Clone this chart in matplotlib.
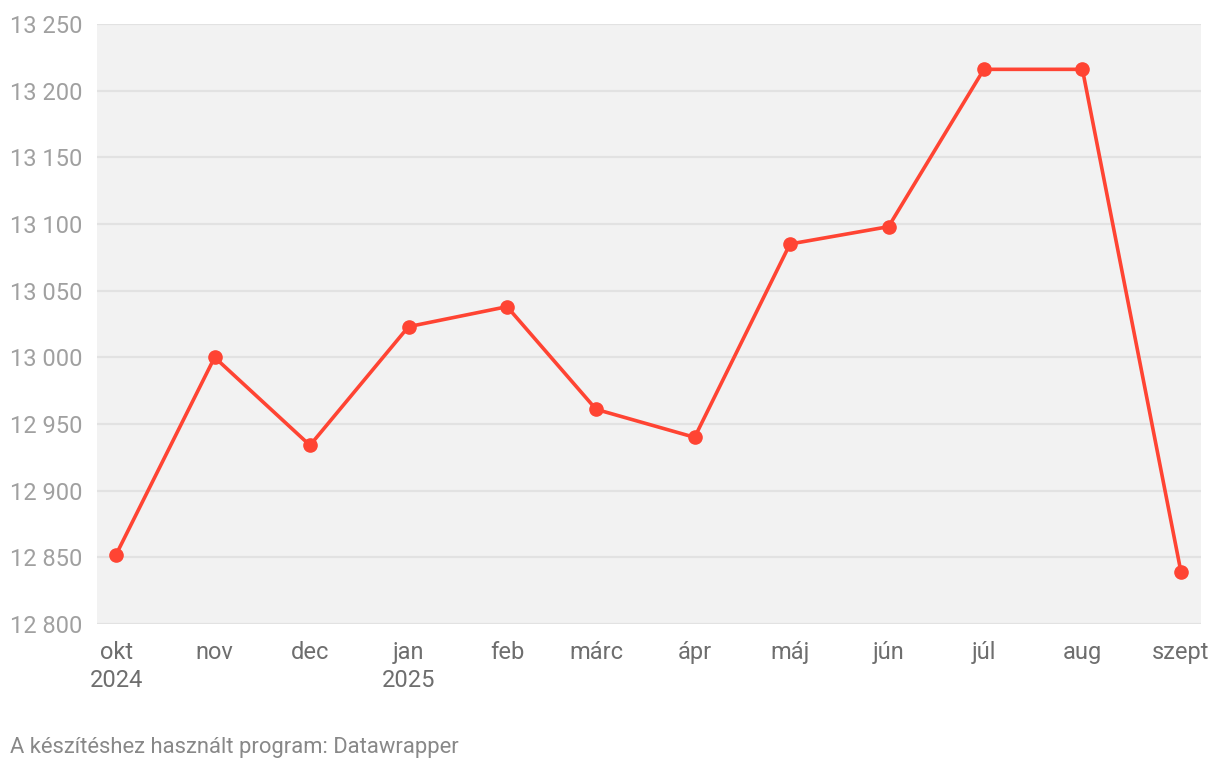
import numpy as np
import matplotlib.pyplot as plt
import matplotlib.dates as mdates
from matplotlib.ticker import FuncFormatter
from datetime import datetime, timedelta

honapok = ["2024-10-01", "2024-11-01", "2024-12-01", "2025-01-01", "2025-02-01", "2025-03-01",
           "2025-04-01", "2025-05-01", "2025-06-01", "2025-07-01", "2025-08-01", "2025-09-01"]
ertekek = [12852, 13000, 12934, 13023, 13038, 12961, 12940, 13085, 13098, 13216, 13216, 12839]
cimkek = ["okt\n2024", "nov", "dec", "jan\n2025", "feb", "márc", "ápr", "máj", "jún", "júl", "aug", "szept"]
y_tickek = [12800, 12850, 12900, 12950, 13000, 13050, 13100, 13150, 13200, 13250]

plt.rcParams['font.family'] = ['Roboto', 'DejaVu Sans']

datumok = [datetime.strptime(d, "%Y-%m-%d") for d in honapok]

fig = plt.figure(figsize=(12.2, 7.7), dpi=100)
ax = fig.add_axes([97 / 1220, 1 - 624 / 770, (1201 - 97) / 1220, 600 / 770])
ax.set_facecolor('#f2f2f2')

ax.plot(datumok, ertekek, color='#ff4433', linewidth=2.6, marker='o', markersize=9.5,
        solid_capstyle='round', zorder=3)

ax.set_ylim(12800, 13250)
ax.set_xlim(datumok[0] - timedelta(days=6), datumok[-1] + timedelta(days=6.3))
ax.set_yticks(y_tickek)
ax.yaxis.set_major_formatter(FuncFormatter(lambda v, p: f"{int(v):,}".replace(",", " ")))
ax.set_xticks(datumok)
ax.set_xticklabels(cimkek, linespacing=1.3)

ax.grid(axis='y', color='#e2e2e2', linewidth=1.6, zorder=0)
ax.set_axisbelow(True)
for s in ax.spines.values():
    s.set_visible(False)

ax.tick_params(axis='y', length=0, pad=10.5, labelsize=17, labelcolor='#a0a0a0')
ax.tick_params(axis='x', length=0, pad=12, labelsize=17, labelcolor='#6e6e6e')

fig.text(10 / 1220, 1 - 747 / 770, "A készítéshez használt program: Datawrapper",
         fontsize=15.8, color='#888888', va='center', ha='left')

fig.savefig("out.png", dpi=100, facecolor='white')
